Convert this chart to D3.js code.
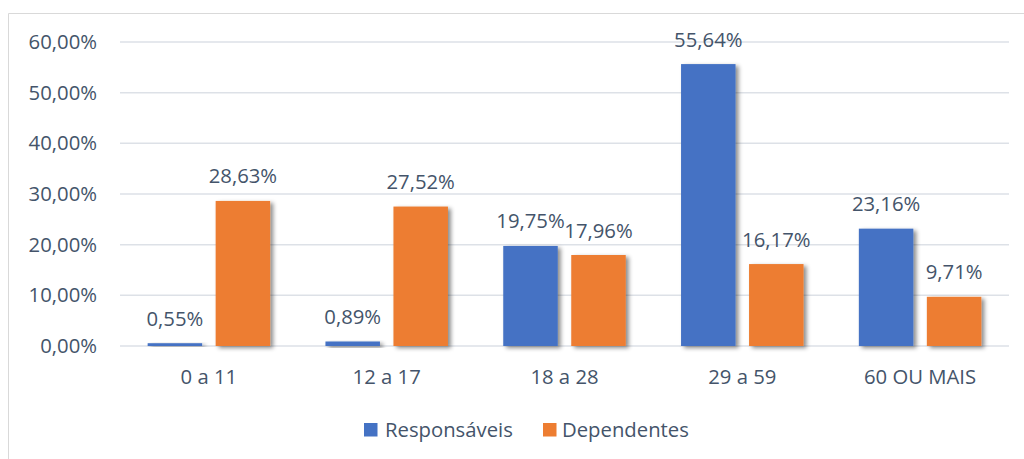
<!DOCTYPE html>
<html>
<head>
<meta charset="utf-8">
<script src="https://cdn.jsdelivr.net/npm/d3@7"></script>
<style>
  html, body { margin: 0; padding: 0; background: #fff; }
  svg { display: block; }
  text { font-family: "Open Sans", "Noto Sans", sans-serif; fill: #44546A; }
</style>
</head>
<body>
<svg id="chart" width="1024" height="459"></svg>
<script>
const categories = ["0 a 11", "12 a 17", "18 a 28", "29 a 59", "60 OU MAIS"];
const seriesNames = ["Responsáveis", "Dependentes"];
const responsaveis = [0.55, 0.89, 19.75, 55.64, 23.16];
const dependentes = [28.63, 27.52, 17.96, 16.17, 9.71];
const yTicks = [0, 10, 20, 30, 40, 50, 60];
const colors = ["#4472C4", "#ED7D31"];

const svg = d3.select("#chart");
const W = 1024, H = 459;
const plot = { left: 120, right: 1009, top: 42, bottom: 346 };
const FS = 20.3;

const fmt = v => v.toFixed(2).replace(".", ",") + "%";

// outer frame (top and left edges visible)
svg.append("line").attr("x1", 8.5).attr("x2", 1024).attr("y1", 13.5).attr("y2", 13.5)
  .attr("stroke", "#d9d9d9").attr("stroke-width", 1);
svg.append("line").attr("x1", 8.5).attr("x2", 8.5).attr("y1", 13.5).attr("y2", H)
  .attr("stroke", "#d9d9d9").attr("stroke-width", 1);

const defs = svg.append("defs");
const f = defs.append("filter").attr("id", "shadow")
  .attr("x", "-20%").attr("y", "-20%").attr("width", "150%").attr("height", "150%");
f.append("feDropShadow").attr("dx", 3).attr("dy", 2).attr("stdDeviation", 2.2)
  .attr("flood-color", "#000").attr("flood-opacity", 0.45);

const x = d3.scaleBand().domain(categories).range([plot.left, plot.right]).paddingInner(0).paddingOuter(0);
const y = d3.scaleLinear().domain([0, 60]).range([plot.bottom, plot.top]);

// gridlines
svg.append("g").selectAll("line").data(yTicks).join("line")
  .attr("x1", plot.left).attr("x2", plot.right)
  .attr("y1", d => y(d)).attr("y2", d => y(d))
  .attr("stroke", "#dde1e7").attr("stroke-width", 1.5);

// y labels
svg.append("g").selectAll("text").data(yTicks).join("text")
  .attr("x", 97).attr("y", d => y(d) + 7)
  .attr("text-anchor", "end").attr("font-size", FS)
  .text(d => fmt(d));

const barW = 54.5, gap = 13.5;
const data = [];
categories.forEach((c, i) => {
  [responsaveis, dependentes].forEach((arr, s) => {
    data.push({ cat: c, s: s, v: arr[i] });
  });
});
const bx = d => x(d.cat) + x.bandwidth() / 2 + (d.s === 0 ? -gap / 2 - barW : gap / 2);

svg.append("g").selectAll("rect").data(data).join("rect")
  .attr("x", bx).attr("width", barW)
  .attr("y", d => y(d.v)).attr("height", d => y(0) - y(d.v))
  .attr("fill", d => colors[d.s])
  .attr("filter", "url(#shadow)");

// data labels
svg.append("g").selectAll("text").data(data).join("text")
  .attr("x", d => bx(d) + barW / 2)
  .attr("y", d => y(d.v) - 17.5)
  .attr("text-anchor", "middle").attr("font-size", FS)
  .text(d => fmt(d.v));

// category labels
svg.append("g").selectAll("text").data(categories).join("text")
  .attr("x", d => x(d) + x.bandwidth() / 2)
  .attr("y", 383.5)
  .attr("text-anchor", "middle").attr("font-size", FS)
  .text(d => d);

// legend
const legend = [
  { name: seriesNames[0], color: colors[0], sx: 364, tx: 385 },
  { name: seriesNames[1], color: colors[1], sx: 543, tx: 562 }
];
const lg = svg.append("g");
legend.forEach(l => {
  lg.append("rect").attr("x", l.sx).attr("y", 423).attr("width", 13.5).attr("height", 13.5).attr("fill", l.color);
  lg.append("text").attr("x", l.tx).attr("y", 436.5).attr("font-size", FS).text(l.name);
});
</script>
</body>
</html>
